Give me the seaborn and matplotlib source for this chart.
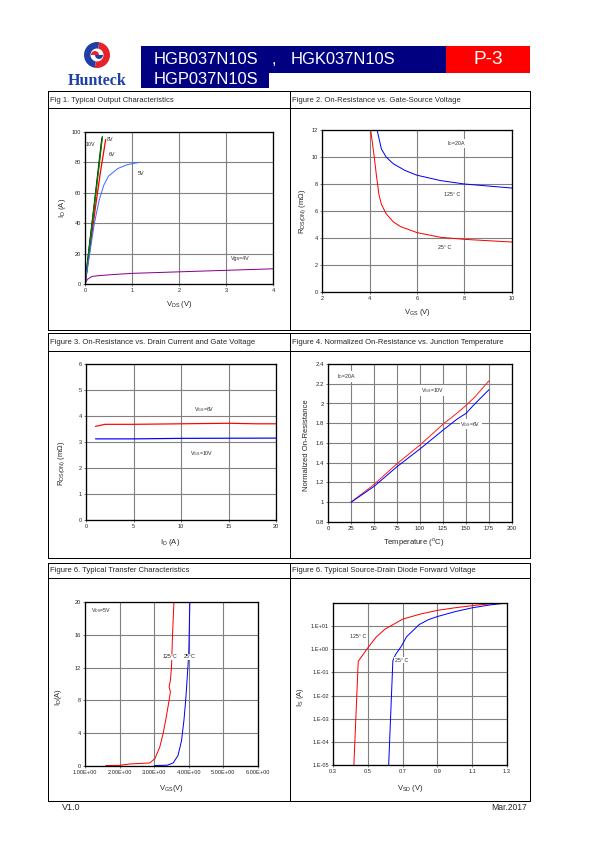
import matplotlib
matplotlib.use("Agg")
import matplotlib.pyplot as plt
import seaborn as sns
from matplotlib.patches import Rectangle, Wedge, Circle
from matplotlib.ticker import NullLocator

# ---------------------------------------------------------------
# data
# ---------------------------------------------------------------
# Fig 1  output characteristics
vds_10v = [0.0, 0.02, 0.1, 0.2, 0.3, 0.37]
id_10v = [0, 5, 26, 52, 78, 97]
vds_8v = [0.0, 0.02, 0.1, 0.2, 0.3, 0.36]
id_8v = [0, 5, 27, 53, 80, 96]
vds_6v = [0.0, 0.03, 0.12, 0.22, 0.33, 0.44]
id_6v = [0, 6, 27, 50, 74, 95]
vds_5v = [0.0, 0.1, 0.2, 0.3, 0.4, 0.5, 0.7, 0.9, 1.15]
id_5v = [0, 20, 40, 55, 65, 71, 76, 78.5, 80]
vds_4v = [0.0, 0.05, 0.15, 0.3, 0.5, 1.0, 2.0, 3.0, 4.0]
id_4v = [0, 3, 5, 5.5, 6, 7, 8, 9, 10]

# Fig 2  Rds(on) vs Vgs
vgs_125 = [4.32, 4.5, 4.7, 5.0, 5.5, 6.0, 7.0, 8.0, 9.0, 10.0]
rds_125 = [12, 10.6, 10.0, 9.5, 9.0, 8.65, 8.25, 8.0, 7.85, 7.7]
vgs_25 = [4.05, 4.2, 4.3, 4.4, 4.5, 4.7, 5.0, 5.3, 6.0, 7.0, 8.0, 9.0, 10.0]
rds_25 = [12, 10, 8.5, 7.2, 6.5, 5.8, 5.2, 4.85, 4.4, 4.05, 3.9, 3.8, 3.7]

# Fig 3  Rds(on) vs Id
id_6v_r = [1, 2, 5, 10, 15, 18, 20]
rds_6v = [3.6, 3.68, 3.68, 3.7, 3.72, 3.7, 3.7]
id_10v_r = [1, 5, 10, 20]
rds_10v = [3.12, 3.12, 3.14, 3.15]

# Fig 4  normalized Rds(on) vs Tj
tj = [25, 50, 75, 100, 125, 140, 150, 160, 175]
norm_10v = [1.0, 1.18, 1.39, 1.58, 1.79, 1.9, 1.98, 2.07, 2.23]
norm_6v = [1.0, 1.16, 1.36, 1.54, 1.73, 1.84, 1.9, 2.0, 2.14]

# Fig 5  transfer characteristics
vgs_t125 = [1.6, 2.0, 2.3, 2.87, 3.02, 3.16, 3.26, 3.35, 3.43, 3.47, 3.43, 3.47, 3.5, 3.53, 3.57]
id_t125 = [0.05, 0.08, 0.25, 0.37, 0.9, 2.3, 4, 6, 8, 9.06, 9.6, 10.5, 12.1, 16, 20]
vgs_t25 = [3.0, 3.38, 3.55, 3.69, 3.79, 3.86, 3.91, 3.95, 4.0, 4.03]
id_t25 = [0.05, 0.1, 0.37, 1.3, 3.1, 5.6, 8, 10.5, 13.8, 20]

# Fig 6  body diode forward voltage
vsd_125 = [0.42, 0.445, 0.5, 0.55, 0.6, 0.7, 0.8, 0.9, 1.0, 1.1, 1.2, 1.3]
is_125 = [1e-5, 0.3, 1.15, 3.5, 7.5, 20, 33, 48, 62, 77, 92, 100]
vsd_25 = [0.62, 0.644, 0.66, 0.694, 0.723, 0.796, 0.848, 0.9, 1.0, 1.1, 1.2, 1.3]
is_25 = [1e-5, 0.32, 0.6, 1.4, 3.5, 11.8, 19, 26, 42, 62, 82, 100]

W, H = 595, 842
TICK = 5.6
NOTE = 5.2
LAB = 7.6

sns.set_style("white")
plt.rcParams['font.family'] = ['Liberation Sans', 'DejaVu Sans']
plt.rcParams['mathtext.fontset'] = 'custom'
plt.rcParams['mathtext.rm'] = 'Liberation Sans'

fig = plt.figure(figsize=(W / 72, H / 72), dpi=72)

# page overlay in pixel coordinates
page = fig.add_axes([0, 0, 1, 1])
page.set_xlim(0, W)
page.set_ylim(H, 0)
page.set_axis_off()


def rect(l, t, r, b):
    return [l / W, 1 - b / H, (r - l) / W, (b - t) / H]


# header
page.add_patch(Rectangle((141, 46), 305, 27, color='#000080', lw=0))
page.add_patch(Rectangle((446, 46), 84, 27, color='#FF0000', lw=0))
page.add_patch(Rectangle((141, 73), 128, 15, color='#000080', lw=0))
page.text(154, 60, "HGB037N10S", color='white', fontsize=16.5, va='center')
page.text(272, 60, ",", color='white', fontsize=16.5, va='center')
page.text(291, 60, "HGK037N10S", color='white', fontsize=16.5, va='center')
page.text(488, 59, "P-3", color='white', fontsize=19, va='center', ha='center')
page.text(154, 80, "HGP037N10S", color='white', fontsize=16.5, va='center')

# logo
page.add_patch(Wedge((97, 55), 13, 100, 280, color='#1F3FA8', lw=0))
page.add_patch(Wedge((97, 55), 13, -80, 100, color='#E8222A', lw=0))
page.add_patch(Circle((97, 55), 6.5, color='white', lw=0))
page.add_patch(Wedge((95, 55), 4, 180, 360, color='#E8222A', lw=0))
page.add_patch(Wedge((99, 55), 4, 0, 180, color='#1F3FA8', lw=0))
page.text(97, 81, "Hunteck", color='#1F3FA8', fontsize=16, fontweight='bold',
          family='Liberation Serif', ha='center', va='center')

# frames
lw = 1.0
for top, sep, bot in [(91, 108, 330), (333, 350.5, 558), (562.5, 578, 800.5)]:
    page.plot([48, 530, 530, 48, 48], [top, top, bot, bot, top], color='black', lw=lw)
    page.plot([48, 530], [sep, sep], color='black', lw=lw)
    page.plot([290, 290], [top, bot], color='black', lw=lw)

titles = [
    (50, 100, "Fig 1. Typical Output Characteristics"),
    (292, 100, "Figure 2. On-Resistance vs. Gate-Source Voltage"),
    (50, 342, "Figure 3. On-Resistance vs. Drain Current and Gate Voltage"),
    (292, 342, "Figure 4. Normalized On-Resistance vs. Junction Temperature"),
    (50, 570.5, "Figure 6. Typical Transfer Characteristics"),
    (292, 570.5, "Figure 6. Typical Source-Drain Diode Forward Voltage"),
]
for x, y, t in titles:
    page.text(x, y, t, fontsize=7.6, va='center')

page.text(62, 807, "V1.0", fontsize=9, va='center')
page.text(527, 807, "Mar.2017", fontsize=8.5, va='center', ha='right')


def style(ax, xlim, ylim, xticks, yticks, xlab, ylab, xl_pos, yl_pos,
          xticklabels=None, yticklabels=None, fs=TICK):
    ax.set_xlim(*xlim)
    ax.set_ylim(*ylim)
    ax.set_xticks(xticks)
    ax.set_yticks(yticks)
    if xticklabels is not None:
        ax.set_xticklabels(xticklabels)
    if yticklabels is not None:
        ax.set_yticklabels(yticklabels)
    ax.grid(True, color='#808080', lw=1.1)
    ax.set_axisbelow(True)
    for s in ax.spines.values():
        s.set_color('black')
        s.set_linewidth(1.3)
        s.set_visible(True)
    ax.tick_params(direction='out', length=2, width=0.6, labelsize=fs, pad=2,
                   bottom=True, left=True)
    ax.set_xlabel(xlab, fontsize=LAB, va='center', ha='center')
    ax.set_ylabel(ylab, fontsize=LAB, va='center', ha='center')
    ax.xaxis.set_label_coords(xl_pos[0], xl_pos[1], transform=page.transData)
    ax.yaxis.set_label_coords(yl_pos[0], yl_pos[1], transform=page.transData)


def curve(ax, x, y, color, lw=1.0):
    sns.lineplot(x=x, y=y, ax=ax, color=color, lw=lw, sort=False, estimator=None)


# Fig 1
ax1 = fig.add_axes(rect(85, 132, 273, 284))
curve(ax1, vds_6v, id_6v, '#FF0000', 1.3)
curve(ax1, vds_8v, id_8v, '#000000', 1.3)
curve(ax1, vds_10v, id_10v, '#008000', 1.3)
curve(ax1, vds_5v, id_5v, '#3A6EFF')
curve(ax1, vds_4v, id_4v, '#8B008B')
style(ax1, (0, 4), (0, 100), [0, 1, 2, 3, 4], [0, 20, 40, 60, 80, 100],
      r"V$_\mathregular{DS}$ (V)", r"I$_\mathregular{D}$ (A)", (179, 305), (63, 208))
for x, y, t in [(0.01, 92, "10V"), (0.46, 95, "8V"), (0.5, 85.5, "6V"),
                (1.13, 72.5, "5V"), (3.1, 17, "Vgs=4V")]:
    ax1.text(x, y, t, fontsize=NOTE, va='center')

# Fig 2
ax2 = fig.add_axes(rect(322, 130, 512, 292))
curve(ax2, vgs_125, rds_125, '#0000FF')
curve(ax2, vgs_25, rds_25, '#FF0000')
style(ax2, (2, 10), (0, 12), [2, 4, 6, 8, 10], [0, 2, 4, 6, 8, 10, 12],
      r"V$_\mathregular{GS}$ (V)", r"R$_\mathregular{DS(ON)}$ (m$\Omega$)", (417, 313), (303, 211))
for x, y, t in [(7.28, 11.0, r"I$_\mathregular{D}$=20A"), (7.12, 7.2, "125° C"),
                (6.9, 3.3, "25° C")]:
    ax2.text(x, y, t, fontsize=NOTE, va='center',
             bbox=dict(facecolor='white', edgecolor='none', pad=0.5))

# Fig 3
ax3 = fig.add_axes(rect(86, 364, 276, 520))
curve(ax3, id_6v_r, rds_6v, '#FF0000', 1.2)
curve(ax3, id_10v_r, rds_10v, '#0000FF', 1.2)
style(ax3, (0, 20), (0, 6), [0, 5, 10, 15, 20], [0, 1, 2, 3, 4, 5, 6],
      r"I$_\mathregular{D}$ (A)", r"R$_\mathregular{DS(ON)}$ (m$\Omega$)", (170, 542), (62, 463))
for x, y, t in [(11.4, 4.24, r"V$_\mathregular{GS}$=6V"), (11.0, 2.57, r"V$_\mathregular{GS}$=10V")]:
    ax3.text(x, y, t, fontsize=NOTE, va='center')

# Fig 4
ax4 = fig.add_axes(rect(328, 364, 512, 522))
curve(ax4, tj, norm_10v, '#FF2020')
curve(ax4, tj, norm_6v, '#0000FF')
style(ax4, (0, 200), (0.8, 2.4), list(range(0, 201, 25)),
      [0.8, 1.0, 1.2, 1.4, 1.6, 1.8, 2.0, 2.2, 2.4],
      r"Temperature ($^\mathregular{o}$C)", "Normalized On-Resistance", (414, 543), (307, 445),
      yticklabels=["0.8", "1", "1.2", "1.4", "1.6", "1.8", "2", "2.2", "2.4"], fs=6)
for x, y, t in [(10, 2.275, r"I$_\mathregular{D}$=20A"), (101, 2.13, r"V$_\mathregular{GS}$=10V"),
                (144, 1.79, r"V$_\mathregular{GS}$=6V")]:
    ax4.text(x, y, t, fontsize=NOTE, va='center',
             bbox=dict(facecolor='white', edgecolor='none', pad=0.8))

# Fig 5
ax5 = fig.add_axes(rect(85, 602, 258, 766))
curve(ax5, vgs_t125, id_t125, '#FF0000')
curve(ax5, vgs_t25, id_t25, '#0000FF')
style(ax5, (1, 6), (0, 20), [1, 2, 3, 4, 5, 6], [0, 4, 8, 12, 16, 20],
      r"V$_\mathregular{GS}$(V)", r"I$_\mathregular{D}$(A)", (171, 788), (58, 697),
      xticklabels=["1.00E+00", "2.00E+00", "3.00E+00", "4.00E+00", "5.00E+00", "6.00E+00"])
ax5.text(1.16, 18.9, r"V$_\mathregular{DS}$=5V", fontsize=NOTE, va='center')
for x, y, t in [(3.25, 13.3, "125°C"), (3.85, 13.3, "25°C")]:
    ax5.text(x, y, t, fontsize=NOTE, va='center',
             bbox=dict(facecolor='white', edgecolor='none', pad=0.3))

# Fig 6
ax6 = fig.add_axes(rect(333, 603, 507, 765))
ax6.set_yscale('log')
curve(ax6, vsd_125, is_125, '#FF0000')
curve(ax6, vsd_25, is_25, '#0000FF')
style(ax6, (0.3, 1.3), (1e-5, 1e2), [0.3, 0.5, 0.7, 0.9, 1.1, 1.3],
      [1e-5, 1e-4, 1e-3, 1e-2, 1e-1, 1e0, 1e1],
      r"V$_\mathregular{SD}$ (V)", r"I$_\mathregular{S}$ (A)", (410, 788), (301, 697),
      xticklabels=["0.3", "0.5", "0.7", "0.9", "1.1", "1.3"],
      yticklabels=["1.E-05", "1.E-04", "1.E-03", "1.E-02", "1.E-01", "1.E+00", "1.E+01"])
ax6.yaxis.set_minor_locator(NullLocator())
ax6.text(0.4, 3.7, "125° C", fontsize=NOTE, va='center')
ax6.text(0.654, 0.34, "25° C", fontsize=NOTE, va='center',
         bbox=dict(facecolor='white', edgecolor='none', pad=0.3))

fig.savefig("out.png", dpi=72)
